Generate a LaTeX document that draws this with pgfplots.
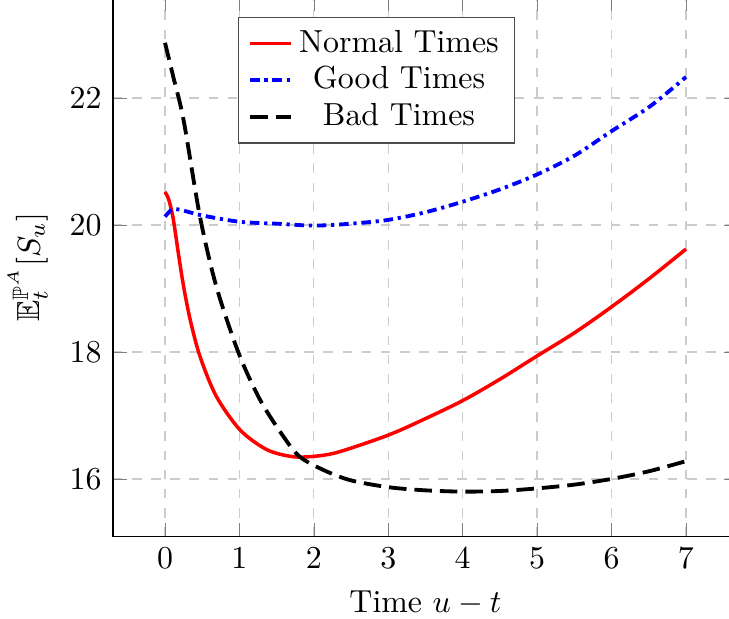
\documentclass[border=0pt]{standalone}
\usepackage{amsmath,amssymb}
\usepackage{pgfplots}
\pgfplotsset{compat=1.18}

\begin{document}
\begin{tikzpicture}
\begin{axis}[
  scale only axis,
  width=196pt, height=169pt,
  xmin=-0.7, xmax=7.7, ymin=15.09, ymax=23.58,
  xtick={0,1,...,7}, ytick={16,18,20,22},
  grid=major,
  grid style={dashed, gray!40},
  xlabel={Time $u-t$},
  ylabel={$\mathbb{E}_t^{\mathbb{P}^A}[S_u]$},
  legend cell align=center,
  legend image code/.code={\draw[#1] (0cm,0cm) -- (0.45cm,0cm);},
  legend style={at={(0.2,0.965)}, anchor=north west, draw=black!70, row sep=-1pt},
]
\addplot[red, line width=1.1pt, smooth] coordinates {
(0.00,20.52) (0.05,20.40) (0.11,20.10) (0.18,19.55) (0.25,19.03) (0.34,18.50)
(0.47,17.93) (0.69,17.30) (1.01,16.77) (1.37,16.46) (1.72,16.35) (2.04,16.36)
(2.35,16.43) (3.00,16.69) (3.50,16.95) (4.01,17.24) (4.50,17.57) (4.99,17.93)
(5.50,18.30) (6.00,18.71) (6.50,19.15) (7.00,19.62)};
\addlegendentry{Normal Times}
\addplot[blue, line width=1.2pt, dash pattern=on 3pt off 1.5pt on 1pt off 1.5pt, smooth] coordinates {
(0.00,20.13) (0.09,20.24) (0.20,20.24) (0.50,20.15) (1.00,20.05) (1.50,20.02)
(2.00,19.99) (2.50,20.02) (3.00,20.08) (3.50,20.20) (4.01,20.37) (4.50,20.56)
(4.99,20.79) (5.50,21.09) (5.99,21.47) (6.52,21.87) (7.00,22.33)};
\addlegendentry{Good Times}
\addplot[black, line width=1.2pt, dash pattern=on 5.5pt off 2.5pt, smooth] coordinates {
(0.00,22.87) (0.11,22.34) (0.25,21.65) (0.47,20.13) (0.69,19.03) (0.99,17.98)
(1.28,17.24) (1.59,16.67) (1.81,16.35) (2.13,16.14) (2.49,15.98) (3.00,15.87)
(3.50,15.82) (4.01,15.80) (4.50,15.81) (4.99,15.85) (5.50,15.91) (6.00,16.00)
(6.50,16.12) (7.00,16.28)};
\addlegendentry{Bad Times}
\coordinate (bl) at (axis cs:-2.217,13.795);
\coordinate (tr) at (axis cs:7.578,23.543);
\end{axis}
\pgfresetboundingbox
\path[use as bounding box] (bl) rectangle (tr);
\end{tikzpicture}
\end{document}
